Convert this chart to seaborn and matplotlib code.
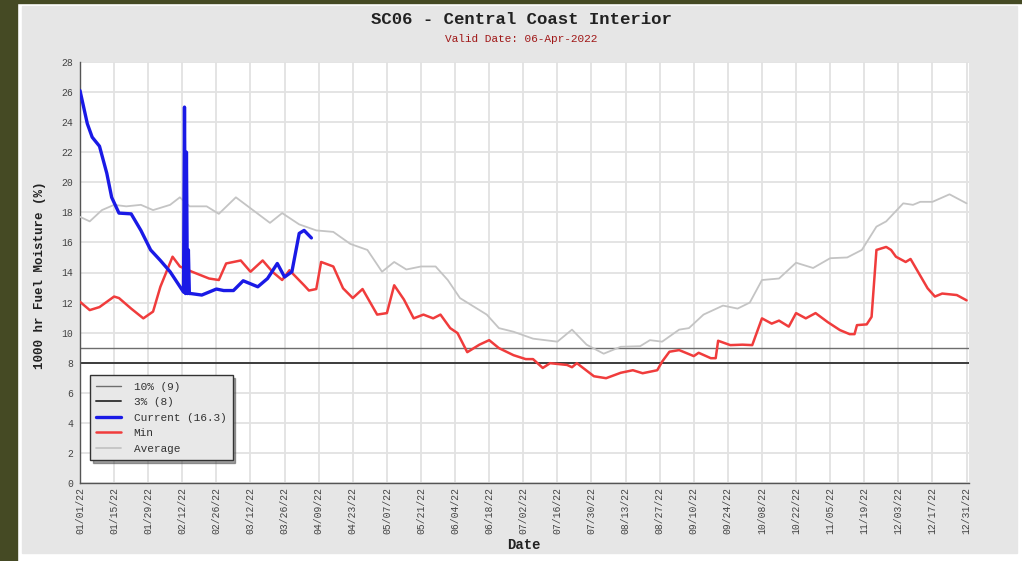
import numpy as np
import pandas as pd
import matplotlib
matplotlib.use("Agg")
import matplotlib.pyplot as plt
import matplotlib.dates as mdates
from matplotlib.patches import Rectangle
import seaborn as sns

# ---- data (days counted from 01/01/22) ----
avg_day = [0, 4, 9, 14, 19, 25, 30, 37, 41, 45, 52, 57, 64, 71, 78, 83, 90, 97,
           104, 111, 118, 124, 129, 134, 140, 146, 151, 156, 161, 167, 172, 178,
           186, 196, 202, 208, 215, 222, 230, 234, 239, 246, 250, 256, 264, 270,
           275, 280, 287, 294, 301, 308, 315, 321, 327, 331, 338, 342, 345, 350,
           357, 364]
avg_val = [17.7, 17.4, 18.15, 18.5, 18.4, 18.5, 18.15, 18.5, 19.0, 18.4, 18.4, 17.9,
           19.0, 18.15, 17.3, 17.95, 17.2, 16.8, 16.7, 15.9, 15.5, 14.05, 14.7, 14.2,
           14.4, 14.4, 13.5, 12.3, 11.8, 11.2, 10.3, 10.06, 9.6, 9.4, 10.2, 9.2, 8.6,
           9.06, 9.1, 9.5, 9.4, 10.2, 10.3, 11.2, 11.8, 11.6, 12.0, 13.5, 13.6, 14.65,
           14.3, 14.95, 15.0, 15.5, 17.05, 17.4, 18.6, 18.5, 18.7, 18.7, 19.2, 18.6]

min_day = [0, 4, 8, 14, 16, 21, 26, 30, 33, 38, 41, 46, 53, 57, 60, 66, 70, 75, 79,
           83, 86, 92, 94, 97, 99, 104, 108, 112, 116, 122, 126, 129, 133, 137, 141,
           145, 148, 152, 155, 159, 164, 168, 172, 178, 183, 186, 190, 193, 200, 202,
           204, 211, 216, 222, 227, 231, 237, 239, 242, 246, 252, 254, 259, 261, 262,
           267, 272, 276, 280, 284, 287, 291, 294, 298, 302, 307, 312, 316, 318, 319,
           323, 325, 327, 331, 333, 335, 339, 341, 348, 351, 354, 360, 364]
min_val = [12.05, 11.5, 11.7, 12.4, 12.3, 11.6, 10.95, 11.4, 13.05, 15.05, 14.4, 14.05,
           13.6, 13.5, 14.6, 14.8, 14.05, 14.8, 14.05, 13.5, 14.15, 13.15, 12.8, 12.9,
           14.7, 14.4, 12.95, 12.3, 12.9, 11.2, 11.3, 13.15, 12.2, 10.95, 11.2, 10.95,
           11.2, 10.3, 9.97, 8.7, 9.2, 9.5, 8.97, 8.5, 8.24, 8.24, 7.65, 7.97, 7.85, 7.7,
           7.97, 7.1, 6.97, 7.33, 7.5, 7.3, 7.5, 8.07, 8.73, 8.84, 8.44, 8.66, 8.3, 8.3,
           9.46, 9.17, 9.2, 9.17, 10.95, 10.6, 10.8, 10.4, 11.3, 10.95, 11.3, 10.7, 10.17,
           9.9, 9.9, 10.5, 10.55, 11.05, 15.5, 15.7, 15.5, 15.05, 14.7, 14.9, 12.95, 12.4,
           12.6, 12.5, 12.15]

cur_day = [0, 3, 5, 8, 11, 13, 16, 21, 25, 29, 33, 37, 42.5, 42.9, 43.3, 43.7, 44.1,
           44.5, 44.9, 45.5, 50, 56, 59, 63, 67, 73, 77, 81, 84, 87, 90, 92, 95]
cur_val = [26.1, 23.9, 23.0, 22.4, 20.6, 19.0, 17.95, 17.9, 16.8, 15.5, 14.8, 14.05,
           12.7, 25.0, 12.6, 22.0, 12.6, 15.5, 12.6, 12.6, 12.5, 12.9, 12.8, 12.8,
           13.45, 13.05, 13.6, 14.6, 13.7, 14.05, 16.6, 16.8, 16.3]

pct10, pct3 = 9, 8
title = "SC06 - Central Coast Interior"
subtitle = "Valid Date: 06-Apr-2022"

start = pd.Timestamp("2022-01-01")


def to_dates(days):
    return start + pd.to_timedelta(np.array(days, dtype=float), unit="D")


MONO = ["Liberation Mono", "DejaVu Sans Mono"]

sns.set_style("white")
plt.rcParams["font.family"] = MONO

fig = plt.figure(figsize=(10.22, 5.61), dpi=100)
fig.patch.set_facecolor("white")

# frame decorations
W, H = 1022, 561
fig.patches.append(Rectangle((0, 0), 17 / W, 1, transform=fig.transFigure,
                             color="#454a24", zorder=-5))
fig.patches.append(Rectangle((0, 1 - 3 / H), 1, 3 / H, transform=fig.transFigure,
                             color="#454a24", zorder=-5))
fig.patches.append(Rectangle((22 / W, 1 - 553 / H), (1017 - 22) / W, (553 - 6) / H,
                             transform=fig.transFigure, color="#e6e6e6", zorder=-5))

ax = fig.add_axes([80 / W, 1 - 483 / H, (969 - 80) / W, (483 - 62) / H])
ax.set_zorder(2)
ax.set_facecolor("white")

h10 = ax.axhline(pct10, color="#6e6e6e", lw=1.0, label=f"10% ({pct10})", zorder=2)
h3 = ax.axhline(pct3, color="#3c3c3c", lw=1.4, label=f"3% ({pct3})", zorder=2)

sns.lineplot(x=to_dates(avg_day), y=avg_val, ax=ax, color="#c4c4c4", lw=1.3,
             estimator=None, sort=False, label="Average", zorder=3)
sns.lineplot(x=to_dates(min_day), y=min_val, ax=ax, color="#f03c3c", lw=1.8,
             estimator=None, sort=False, label="Min", zorder=4)
sns.lineplot(x=to_dates(cur_day), y=cur_val, ax=ax, color="#1a1ae6", lw=2.4,
             estimator=None, sort=False, label=f"Current ({cur_val[-1]})", zorder=5)

ax.set_ylim(0, 28)
ax.set_xlim(start, pd.Timestamp("2023-01-01"))
ax.set_yticks(range(0, 29, 2))
ax.set_yticks(range(0, 29, 1), minor=True)
ax.set_xticks(pd.date_range("2022-01-01", "2022-12-31", freq="14D"))
ax.set_xticks(pd.date_range("2022-01-08", "2022-12-31", freq="14D"), minor=True)
ax.xaxis.set_major_formatter(mdates.DateFormatter("%m/%d/%y"))
plt.setp(ax.get_xticklabels(), rotation=90)

ax.grid(True, which="major", color="#e2e2e2", lw=1.3, zorder=0)
ax.tick_params(axis="both", which="major", direction="in", length=4, width=1,
               color="#555555", labelsize=7, labelcolor="#444444", pad=5)
ax.tick_params(axis="x", which="major", pad=3)
ax.tick_params(axis="both", which="minor", direction="in", length=2.5, width=1,
               color="#555555")
for s in ["top", "right"]:
    ax.spines[s].set_visible(False)
for s in ["left", "bottom"]:
    ax.spines[s].set_color("#555555")
    ax.spines[s].set_linewidth(1.0)
ax.set_xlabel("")
ax.set_ylabel("")

handles, labels = ax.get_legend_handles_labels()
order = [f"10% ({pct10})", f"3% ({pct3})", f"Current ({cur_val[-1]})", "Min", "Average"]
hmap = dict(zip(labels, handles))
leg = ax.legend([hmap[k] for k in order], order, loc="lower left",
                bbox_to_anchor=(0.011, 0.055), borderaxespad=0, fontsize=8,
                frameon=True, fancybox=False, shadow=True, facecolor="#e8e8e8",
                edgecolor="#333333", handlelength=2.3, labelspacing=0.5,
                borderpad=0.55, handletextpad=1.1, framealpha=1)
for t in leg.get_texts():
    t.set_color("#333333")

fig.text(0.51, 1 - 20 / H, title, ha="center", va="center", fontsize=12.5,
         fontweight="bold", color="#222222")
fig.text(0.51, 1 - 39 / H, subtitle, ha="center", va="center", fontsize=8,
         color="#a01818")
fig.text(40 / W, 1 - 275 / H, "1000 hr Fuel Moisture (%)", rotation=90,
         ha="center", va="center", fontsize=9, fontweight="bold", color="#222222")
fig.text(524 / W, 1 - 545 / H, "Date", ha="center", va="center", fontsize=10,
         fontweight="bold", color="#222222")

fig.savefig("out.png", dpi=100)
